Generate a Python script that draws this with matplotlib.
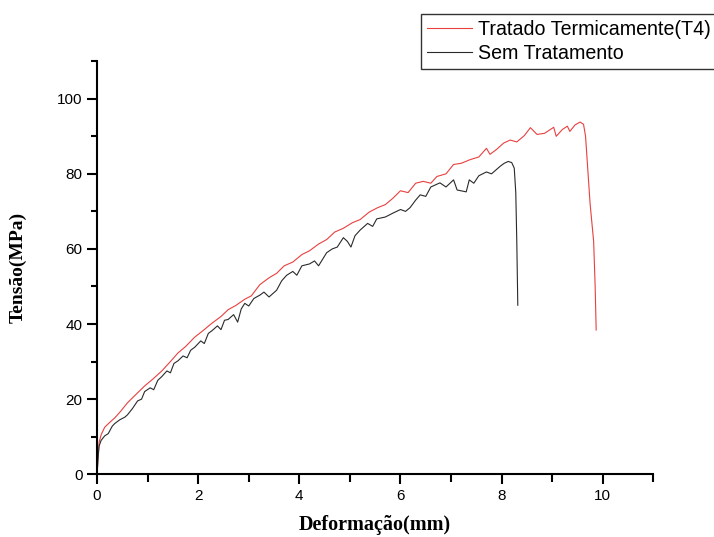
import matplotlib.pyplot as plt
from matplotlib.ticker import MultipleLocator

# Data (deformation in mm, stress in MPa)
t4_def = [0, 0.02, 0.04, 0.08, 0.15, 0.25, 0.35, 0.45, 0.6, 0.75, 0.94, 1.1, 1.28,
          1.45, 1.6, 1.75, 1.93, 2.1, 2.27, 2.45, 2.59, 2.75, 2.92, 3.05, 3.22, 3.4,
          3.55, 3.7, 3.87, 4.05, 4.2, 4.38, 4.54, 4.7, 4.87, 5.05, 5.2, 5.38, 5.55,
          5.7, 5.85, 6.0, 6.15, 6.3, 6.45, 6.6, 6.72, 6.9, 7.05, 7.2, 7.38, 7.55,
          7.7, 7.77, 7.9, 8.04, 8.17, 8.3, 8.45, 8.57, 8.7, 8.85, 9.03, 9.08, 9.2,
          9.3, 9.35, 9.45, 9.55, 9.62, 9.66, 9.69, 9.75, 9.82, 9.85, 9.87]
t4_stress = [0, 5, 8.5, 10.5, 12.5, 13.8, 15, 16.5, 19, 21, 23.5, 25.3, 27.5,
             30, 32.3, 34, 36.5, 38.3, 40.2, 42, 43.8, 45, 46.6, 47.5, 50.5, 52.3,
             53.5, 55.5, 56.5, 58.5, 59.5, 61.3, 62.5, 64.5, 65.5, 67, 67.8, 69.8, 71,
             71.8, 73.5, 75.5, 75, 77.5, 78, 77.5, 79.3, 80, 82.5, 82.8, 83.8, 84.5,
             86.8, 85.2, 86.5, 88.2, 89, 88.5, 90.2, 92.3, 90.5, 90.8, 92.4, 90, 91.8,
             92.7, 91.3, 93, 93.8, 93.2, 90, 84, 72, 62, 50, 38.4]

st_def = [0, 0.02, 0.04, 0.08, 0.15, 0.22, 0.3, 0.35, 0.45, 0.55, 0.6, 0.7, 0.8,
          0.88, 0.94, 1.05, 1.12, 1.2, 1.28, 1.38, 1.45, 1.52, 1.6, 1.7, 1.78, 1.85,
          1.93, 2.05, 2.12, 2.2, 2.27, 2.38, 2.45, 2.52, 2.59, 2.7, 2.78, 2.85, 2.92,
          3.0, 3.1, 3.22, 3.3, 3.4, 3.55, 3.65, 3.75, 3.87, 3.95, 4.05, 4.2, 4.3,
          4.38, 4.54, 4.65, 4.75, 4.87, 4.95, 5.02, 5.1, 5.2, 5.35, 5.45, 5.53, 5.7,
          5.86, 6.0, 6.1, 6.19, 6.3, 6.39, 6.5, 6.6, 6.78, 6.9, 7.05, 7.12, 7.3,
          7.36, 7.45, 7.55, 7.7, 7.8, 7.97, 8.05, 8.13, 8.2, 8.25, 8.28, 8.3, 8.32]
st_stress = [0, 4.5, 7.5, 9, 10.2, 10.8, 12.8, 13.5, 14.5, 15.2, 15.8, 17.5, 19.5,
             20, 22, 23, 22.5, 25, 26, 27.5, 27, 29.5, 30.2, 31.5, 31, 33,
             33.8, 35.5, 34.8, 37.5, 38.2, 39.5, 38.5, 41, 41.2, 42.5, 40.5, 44, 45.5,
             44.8, 46.8, 47.7, 48.5, 47.2, 49, 51.5, 53, 54, 53, 55.5, 56, 56.8,
             55.5, 59, 60, 60.5, 63, 62, 60.5, 63.5, 65, 66.8, 66, 68, 68.5,
             69.6, 70.5, 70, 71, 73, 74.4, 74, 76.5, 77.6, 76.5, 78.4, 75.7, 75.2,
             78.4, 77.5, 79.5, 80.5, 80, 82, 82.8, 83.3, 83, 81.5, 75, 62, 45]

labels = ['Tratado Termicamente(T4)', 'Sem Tratamento']

fig = plt.figure(figsize=(7.14, 5.37), dpi=100)
ax = fig.add_axes([0.136, 0.117, 0.779, 0.769])

ax.plot(t4_def, t4_stress, color='#e8403f', lw=0.8, label=labels[0])
ax.plot(st_def, st_stress, color='#2a2a2a', lw=0.8, label=labels[1])

ax.set_xlim(0, 11)
ax.set_ylim(0, 110)
ax.xaxis.set_major_locator(MultipleLocator(2))
ax.xaxis.set_minor_locator(MultipleLocator(1))
ax.yaxis.set_major_locator(MultipleLocator(20))
ax.yaxis.set_minor_locator(MultipleLocator(10))

for s in ['top', 'right']:
    ax.spines[s].set_visible(False)
for s in ['left', 'bottom']:
    ax.spines[s].set_linewidth(1.5)

ax.tick_params(which='major', direction='out', length=7.5, width=1.5,
               labelsize=11, pad=3)
ax.tick_params(axis='x', which='minor', direction='out', length=6, width=1.5)
ax.tick_params(axis='y', which='minor', direction='out', length=4, width=1.5)
for lab in ax.get_xticklabels() + ax.get_yticklabels():
    lab.set_family('Liberation Sans')

ax.set_xlabel('Deformação(mm)', family='Liberation Serif', fontweight='bold',
              fontsize=14.5, labelpad=9)
ax.set_ylabel('Tensão(MPa)', family='Liberation Serif', fontweight='bold',
              fontsize=14, labelpad=22)

leg = fig.legend(loc='upper left', bbox_to_anchor=(421 / 714, 1 - 14 / 537),
                 prop={'family': 'Liberation Sans', 'size': 14.1},
                 frameon=True, fancybox=False, borderpad=0.3,
                 labelspacing=0.25, handlelength=2.3, handletextpad=0.3,
                 borderaxespad=0)
leg.get_frame().set_edgecolor('black')
leg.get_frame().set_linewidth(1.0)

fig.savefig('out.png', dpi=100)
